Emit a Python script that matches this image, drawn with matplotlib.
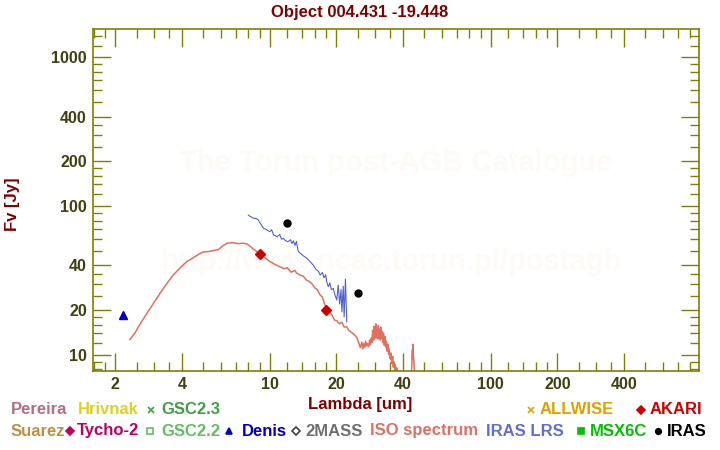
import matplotlib
matplotlib.use('Agg')
import matplotlib.pyplot as plt
from matplotlib.lines import Line2D
from matplotlib.ticker import FixedLocator, NullFormatter
import numpy as np

plt.rcParams['font.family'] = ['Liberation Sans', 'DejaVu Sans']

# ISO spectrum
iso_wl = [2.33, 2.45, 2.6, 2.78, 2.95, 3.19, 3.4, 3.66, 3.9, 4.21, 4.5, 4.8, 5.0, 5.3,
          5.6, 5.85, 6.1, 6.4, 6.8, 7.2, 7.6, 7.9, 8.3, 8.7, 9.04, 9.5, 10.0, 10.5,
          11.1, 11.6, 12.0, 12.5, 13.0, 13.2, 13.7, 14.2, 14.6, 15.2, 15.6, 16.0,
          16.4, 16.9, 17.3, 17.7, 18.1, 18.6, 19.1, 19.6, 20.1, 20.6, 21.2, 21.7,
          22.3, 22.8, 23.4, 24.0, 24.8, 25.3, 25.7, 26.1, 26.4, 26.6, 26.9, 27.1,
          27.4, 27.6, 28.0, 28.3, 28.5, 28.8, 29.0, 29.2, 29.4, 29.6, 29.8, 30.0,
          30.2, 30.4, 30.6, 30.8, 31.0, 31.2, 31.4, 31.6, 31.8, 32.0, 32.3, 32.5,
          32.7, 33.0, 33.2, 33.5, 33.7, 34.0, 34.2, 34.5, 34.7, 35.1, 35.4, 35.6,
          36.0, 36.2, 36.5, 36.8, 37.0, 37.3, 37.5, 38.0, 38.5,
          43.5, 44.0, 44.2, 44.3, 44.5, 44.6, 44.9, 45.3]
iso_fl = [12.7, 14.0, 16.3, 19.0, 21.8, 26.0, 29.8, 34.5, 38.0, 42.4, 45.0, 47.8, 49.2, 49.6,
          50.4, 51.0, 53.8, 56.3, 56.8, 56.0, 56.4, 55.6, 52.5, 49.8, 48.0, 45.0, 42.5, 40.8,
          39.2, 38.0, 38.5, 36.0, 37.0, 35.6, 34.5, 33.8, 32.0, 31.0, 29.8, 28.2,
          27.5, 25.3, 24.5, 22.0, 20.4, 19.5, 18.6, 17.2, 17.0, 16.2, 16.6, 15.4,
          15.5, 14.6, 14.2, 13.8, 13.1, 12.0, 11.2, 12.2, 11.0, 11.9, 11.3, 12.4,
          11.5, 12.0, 11.4, 12.6, 11.7, 13.0, 12.1, 14.6, 12.5, 15.6, 12.8, 14.2,
          16.2, 13.0, 15.0, 12.8, 15.8, 13.2, 14.9, 12.6, 15.4, 12.9, 14.4, 12.1,
          14.0, 11.6, 13.3, 11.3, 12.4, 10.6, 11.8, 10.1, 11.0, 9.4, 10.3, 8.8,
          9.8, 8.3, 9.0, 7.9, 8.6, 7.7, 8.2, 7.4, 7.0,
          6.5, 8.8, 10.9, 9.4, 11.8, 10.2, 9.0, 7.0]

# IRAS LRS spectrum
lrs_wl = [8.0, 8.2, 8.44, 8.7, 8.88, 9.1, 9.36, 9.6, 9.8, 10.0, 10.2, 10.4, 10.8, 11.1,
          11.3, 11.5, 11.8, 12.1, 12.4, 12.6, 12.8, 13.0, 13.2, 13.4, 13.5, 13.9, 14.3,
          14.7, 15.2, 15.7, 16.2, 16.6, 16.9, 17.3, 17.6, 17.9, 18.1, 18.4, 18.7, 19.0,
          19.4, 19.7, 20.1, 20.4, 20.7, 21.0, 21.2, 21.5, 21.7, 22.0, 22.3]
lrs_fl = [87, 85, 83, 82.5, 80.7, 76, 71, 70, 68.5, 67.4, 69.5, 64, 62.3, 64.5,
          60, 60.8, 58.5, 57.7, 59.5, 56, 58.5, 54.5, 58.0, 51, 49.4, 47.5, 46,
          44.7, 42.5, 40.3, 37.5, 36.5, 34.5, 35.8, 33, 34.6, 31, 28.8, 30.5, 27.5,
          28.0, 25.5, 23.4, 29.5, 22, 27.5, 19.5, 29, 18, 32.4, 16.7]

# photometry
iras_wl = [12, 25]
iras_fl = [77, 26]
akari_wl = [9, 18]
akari_fl = [47.7, 20.1]
denis_wl = [2.16]
denis_fl = [18.6]

x_major = [2, 4, 10, 20, 40, 100, 200, 400]
y_major = [10, 20, 40, 100, 200, 400, 1000]

olive = '#808000'
label_col = '#404010'
dark_red = '#800000'

fig = plt.figure(figsize=(7.2, 4.5), dpi=100)
ax = fig.add_axes([0.1285, 0.1756, 0.8425, 0.7593])
ax.set_xscale('log')
ax.set_yscale('log')
ax.set_xlim(1.578, 876)
ax.set_ylim(7.81, 1542)

# watermark
ax.text(0.5, 0.609, 'The Torun post-AGB Catalogue', transform=ax.transAxes, ha='center',
        va='center', fontsize=21, fontweight='bold', color='#fefaf5', zorder=0)
ax.text(0.492, 0.319, 'http://www.ncac.torun.pl/postagb', transform=ax.transAxes, ha='center',
        va='center', fontsize=21, fontweight='bold', color='#fefaf5', zorder=0)

ax.plot(iso_wl, iso_fl, color='#e07060', linewidth=1.1)
ax.plot(lrs_wl, lrs_fl, color='#5060d0', linewidth=0.8)
ax.plot(denis_wl, denis_fl, '^', color='#0000c0', markersize=5.5)
ax.plot(akari_wl, akari_fl, 'D', color='#d00000', markersize=5)
ax.plot(iras_wl, iras_fl, 'o', color='black', markersize=5)

# ticks
minor_mult = [1.2, 1.4, 1.6, 1.8, 2.5, 3, 3.5, 5, 6, 7, 8, 9]
minors = [m * d for d in [1, 10, 100, 1000] for m in minor_mult]
ax.xaxis.set_major_locator(FixedLocator(x_major))
ax.yaxis.set_major_locator(FixedLocator(y_major))
ax.xaxis.set_minor_locator(FixedLocator(minors))
ax.yaxis.set_minor_locator(FixedLocator(minors))
ax.set_xticklabels([str(v) for v in x_major])
ax.set_yticklabels([str(v) for v in y_major])
ax.xaxis.set_minor_formatter(NullFormatter())
ax.yaxis.set_minor_formatter(NullFormatter())
ax.tick_params(which='both', direction='in', top=True, right=True, color=olive, width=1.0,
               labelcolor=label_col, labelsize=11.5)
ax.tick_params(which='major', length=13, pad=4)
ax.tick_params(which='minor', length=6.5)
for lab in ax.get_xticklabels() + ax.get_yticklabels():
    lab.set_fontweight('bold')
for s in ax.spines.values():
    s.set_color(olive)
    s.set_linewidth(1.2)

fig.text(0.5, 0.972, 'Object 004.431 -19.448', ha='center', va='center', fontsize=12,
         fontweight='bold', color=dark_red)
fig.text(0.017, 0.545, 'Fv [Jy]', ha='center', va='center', rotation=90, fontsize=12,
         fontweight='bold', color=dark_red)
fig.text(0.5, 0.1, 'Lambda [um]', ha='center', va='center', fontsize=12,
         fontweight='bold', color=dark_red)

# legend rows
row1 = 1 - 410 / 450
row2 = 1 - 431 / 450
legend_txt = [
    ('Pereira', 11, row1, '#b07080'),
    ('Hrivnak', 78, row1, '#e0d020'),
    ('GSC2.3', 161, row1, '#40a040'),
    ('ALLWISE', 540, row1, '#e0a000'),
    ('AKARI', 650, row1, '#d00000'),
    ('Suarez', 11, row2, '#c09040'),
    ('Tycho-2', 77, row2, '#c00060'),
    ('GSC2.2', 161, row2, '#60c060'),
    ('Denis', 242, row2, '#0000c0'),
    ('2MASS', 305, row2, '#707070'),
    ('ISO spectrum', 370, row2, '#e07060'),
    ('IRAS LRS', 486, row2, '#6070d0'),
    ('MSX6C', 590, row2, '#00c000'),
    ('IRAS', 667, row2, 'black'),
]
for name, px, py, c in legend_txt:
    fig.text(px / 720, py, name, ha='left', va='center', fontsize=12, fontweight='bold', color=c)

legend_mk = [
    ('x', 151, row1, '#40a040', 'full', 4),
    ('x', 531, row1, '#e0a000', 'full', 5),
    ('D', 641, row1, '#d00000', 'full', 4),
    ('D', 70, row2, '#c00060', 'full', 4),
    ('s', 150, row2, '#60c060', 'none', 4),
    ('^', 229, row2, '#0000c0', 'full', 5),
    ('D', 296, row2, '#404040', 'none', 4),
    ('s', 581, row2, '#00c000', 'full', 4.5),
    ('o', 658, row2, 'black', 'full', 4),
]
for mk, px, py, c, fs, ms in legend_mk:
    fig.add_artist(Line2D([px / 720], [py], marker=mk, color=c, markersize=ms,
                          fillstyle=fs, markeredgewidth=1.2, linestyle='none',
                          transform=fig.transFigure))

fig.savefig('out.png', dpi=100)
